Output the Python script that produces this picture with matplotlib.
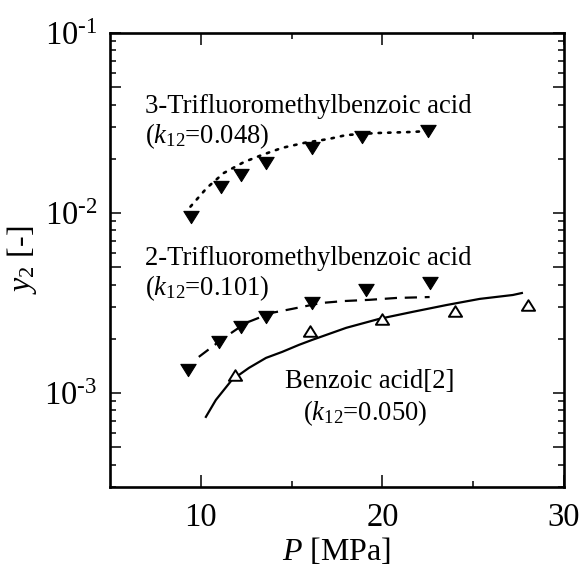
import numpy as np
import matplotlib
matplotlib.use("Agg")
import matplotlib.pyplot as plt
from matplotlib.path import Path

plt.rcParams['font.family'] = ['Liberation Serif', 'DejaVu Serif']
plt.rcParams['mathtext.fontset'] = 'custom'
plt.rcParams['mathtext.rm'] = 'Liberation Serif'
plt.rcParams['mathtext.it'] = 'Liberation Serif:italic'
plt.rcParams['mathtext.bf'] = 'Liberation Serif:bold'

# ---- data: experimental points ----
p_3tfm = [9.45, 11.1, 12.2, 13.6, 16.1, 18.9, 22.5]
y_3tfm = [0.0095, 0.0139, 0.0163, 0.0190, 0.0230, 0.0265, 0.0285]

p_2tfm = [9.28, 11.0, 12.2, 13.6, 16.1, 19.1, 22.6]
y_2tfm = [1.34e-3, 1.92e-3, 2.33e-3, 2.64e-3, 3.16e-3, 3.73e-3, 4.08e-3]

p_ba = [11.9, 16.0, 20.0, 24.0, 28.0]
y_ba = [1.26e-3, 2.21e-3, 2.58e-3, 2.86e-3, 3.08e-3]

# ---- data: correlation curves ----
pc_3tfm = [9.43, 10.33, 11.27, 12.38, 13.37, 14.48, 15.69, 17.07, 18.01, 19.67, 21.66, 22.4]
yc_3tfm = [0.01084, 0.01377, 0.01668, 0.01919, 0.0210, 0.0230, 0.0245, 0.0258, 0.0271, 0.0278, 0.0282, 0.0285]

pc_2tfm = [9.89, 11.27, 12.49, 13.87, 15.03, 16.63, 17.9, 19.28, 20.77, 22.6]
yc_2tfm = [1.585e-3, 2.02e-3, 2.45e-3, 2.78e-3, 2.93e-3, 3.16e-3, 3.24e-3, 3.29e-3, 3.37e-3, 3.41e-3]

pc_ba = [10.28, 10.83, 11.71, 12.65, 13.59, 14.48, 15.41, 16.13, 18.01, 19.83,
         21.66, 23.54, 25.36, 27.18, 27.68]
yc_ba = [7.36e-4, 9.14e-4, 1.18e-3, 1.377e-3, 1.565e-3, 1.69e-3, 1.85e-3, 1.97e-3,
         2.30e-3, 2.58e-3, 2.82e-3, 3.08e-3, 3.33e-3, 3.50e-3, 3.59e-3]

# ---- axis ticks ----
x_major = [10, 20, 30]
x_major_labels = ['10', '20', '30']
x_minor = [15, 25]
y_major = [5e-4, 1e-3, 5e-3, 1e-2, 5e-2, 1e-1]
y_major_labels = ['', r'$10^{\text{-}3}$', '', r'$10^{\text{-}2}$', '', r'$10^{\text{-}1}$']
y_minor = [3e-4, 4e-4, 6e-4, 7e-4, 8e-4, 9e-4,
           2e-3, 3e-3, 4e-3, 6e-3, 7e-3, 8e-3, 9e-3,
           2e-2, 3e-2, 4e-2, 6e-2, 7e-2, 8e-2, 9e-2]

tri_down = Path([(-1, 0.8), (1, 0.8), (0, -0.8), (-1, 0.8)],
                [Path.MOVETO, Path.LINETO, Path.LINETO, Path.CLOSEPOLY])
tri_up = Path([(-1, -0.8), (1, -0.8), (0, 0.8), (-1, -0.8)],
              [Path.MOVETO, Path.LINETO, Path.LINETO, Path.CLOSEPOLY])

fig = plt.figure(figsize=(5.84, 5.66), dpi=100)
ax = fig.add_axes([110/584, 1-487/566, 454/584, 454/566])

ax.set_xscale('linear')
ax.set_yscale('log')

ax.plot(pc_3tfm, yc_3tfm, color='black', lw=1.9, linestyle=(0, (0.9, 2.7)),
        dash_capstyle='round', zorder=2)
ax.plot(pc_2tfm, yc_2tfm, color='black', lw=1.6, linestyle=(0, (5.5, 3.5)), zorder=2)
ax.plot(pc_ba, yc_ba, color='black', lw=1.6, linestyle='-', zorder=2)

ax.plot(p_3tfm, y_3tfm, linestyle='none', marker=tri_down, ms=11,
        mfc='black', mec='black', mew=0.8, zorder=3)
ax.plot(p_2tfm, y_2tfm, linestyle='none', marker=tri_down, ms=11,
        mfc='black', mec='black', mew=0.8, zorder=3)
ax.plot(p_ba, y_ba, linestyle='none', marker=tri_up, ms=9.5,
        mfc='white', mec='black', mew=1.4, zorder=3)

ax.set_xlim(5, 30)
ax.set_ylim(3e-4, 1e-1)

ax.set_xticks(x_major, x_major_labels)
ax.set_xticks(x_minor, minor=True)
ax.set_yticks(y_major, y_major_labels)
ax.set_yticks(y_minor, minor=True)
ax.yaxis.set_minor_formatter(matplotlib.ticker.NullFormatter())

for s in ax.spines.values():
    s.set_linewidth(1.9)

ax.tick_params(axis='both', which='both', direction='in', top=True, right=True,
               width=1.1, labelsize=23.5)
ax.tick_params(axis='y', which='major', length=8, pad=9)
ax.tick_params(axis='y', which='minor', length=4)
ax.tick_params(axis='x', which='major', length=8.5, pad=11)
ax.tick_params(axis='x', which='minor', length=4.3)

ax.set_xlabel(r'$P$ [MPa]', fontsize=23, labelpad=2)
ax.set_ylabel(r'$y_2$ [-]', fontsize=23, labelpad=4)

tfs = 19.2
ax.text(0.077, 0.824, '3-Trifluoromethylbenzoic acid', transform=ax.transAxes,
        fontsize=tfs, va='baseline', ha='left')
ax.text(0.077, 0.758, r'($k_{12}$=0.048)', transform=ax.transAxes,
        fontsize=tfs, va='baseline', ha='left')
ax.text(0.077, 0.489, '2-Trifluoromethylbenzoic acid', transform=ax.transAxes,
        fontsize=tfs, va='baseline', ha='left')
ax.text(0.077, 0.423, r'($k_{12}$=0.101)', transform=ax.transAxes,
        fontsize=tfs, va='baseline', ha='left')
ax.text(0.385, 0.218, 'Benzoic acid[2]', transform=ax.transAxes,
        fontsize=tfs, va='baseline', ha='left')
ax.text(0.425, 0.148, r'($k_{12}$=0.050)', transform=ax.transAxes,
        fontsize=tfs, va='baseline', ha='left')

fig.savefig('out.png', dpi=100)
